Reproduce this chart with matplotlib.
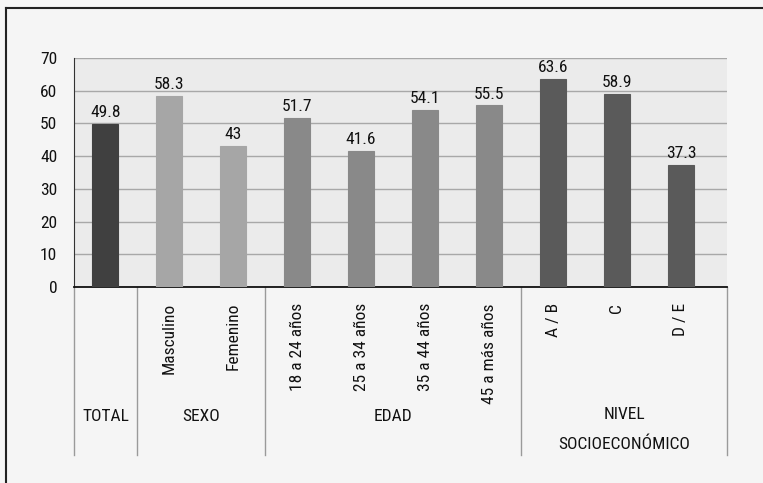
import matplotlib
matplotlib.use("Agg")
import matplotlib.pyplot as plt
import matplotlib.transforms as mtransforms

plt.rcParams['font.family'] = ['Roboto Condensed', 'Liberation Sans', 'DejaVu Sans']

categories = ["", "Masculino", "Femenino", "18 a 24 años", "25 a 34 años",
              "35 a 44 años", "45 a más años", "A / B", "C", "D / E"]
values = [49.8, 58.3, 43, 51.7, 41.6, 54.1, 55.5, 63.6, 58.9, 37.3]
value_labels = ["49.8", "58.3", "43", "51.7", "41.6", "54.1", "55.5", "63.6", "58.9", "37.3"]
groups = ["TOTAL", "SEXO", "EDAD", "NIVEL\n\nSOCIOECONÓMICO"]
group_sizes = [1, 2, 4, 3]
group_colors = ["#404040", "#a6a6a6", "#898989", "#5a5a5a"]
yticks = [0, 10, 20, 30, 40, 50, 60, 70]

W, H = 763, 483
FS = 12.5
fig = plt.figure(figsize=(W / 100, H / 100), dpi=100)
fig.patch.set_facecolor("#f5f5f5")

# outer frame (left and top visible)
fig.add_artist(plt.Line2D([6 / W, 6 / W], [0, 1 - 8 / H], color="#222222", lw=1.5))
fig.add_artist(plt.Line2D([6 / W, 1], [1 - 8 / H, 1 - 8 / H], color="#222222", lw=1.5))

left, right, top, bottom = 74, 727, 58, 287
ax = fig.add_axes([left / W, 1 - bottom / H, (right - left) / W, (bottom - top) / H])
ax.set_facecolor("#ebebeb")

colors = []
for c, n in zip(group_colors, group_sizes):
    colors += [c] * n

x = list(range(len(values)))
ax.bar(x, values, width=0.41, color=colors, edgecolor=colors, linewidth=0.8, zorder=3)
for xi, v, lab in zip(x, values, value_labels):
    ax.text(xi, v + 1.2, lab, ha="center", va="bottom", fontsize=FS, color="#111111", zorder=4)

ax.set_xlim(-0.49, 9.72)
ax.set_ylim(0, 70)
ax.set_yticks(yticks)
ax.set_yticklabels([str(t) for t in yticks], fontsize=FS, color="#111111")
ax.tick_params(axis="y", length=0, pad=12)
ax.set_xticks([])
ax.yaxis.grid(True, color="#a8a8a8", lw=1.0, zorder=1)
ax.set_axisbelow(True)
for s in ["top", "right"]:
    ax.spines[s].set_visible(False)
ax.spines["left"].set_color("#333333")
ax.spines["bottom"].set_color("#111111")
ax.spines["bottom"].set_linewidth(1.3)

trans = mtransforms.blended_transform_factory(ax.transData, ax.transAxes)

# category labels
for xi, lab in zip(x, categories):
    if lab:
        ax.text(xi, -0.07, lab, rotation=90, ha="center", va="top", fontsize=FS,
                color="#111111", transform=trans)

# group separators and labels
bounds = [-0.49]
acc = -0.5
for n in group_sizes:
    acc += n
    bounds.append(acc)
bounds[-1] = 9.72
for b in bounds:
    ax.plot([b, b], [0, -0.735], transform=trans, color="#9a9a9a", lw=1.0, clip_on=False)
for i, g in enumerate(groups):
    cx = (bounds[i] + bounds[i + 1]) / 2
    if "\n" in g:
        ax.text(cx, -0.525, g, ha="center", va="top", fontsize=FS, color="#111111",
                transform=trans, linespacing=0.95)
    else:
        ax.text(cx, -0.565, g, ha="center", va="center", fontsize=FS, color="#111111",
                transform=trans)

fig.savefig("out.png", dpi=100, facecolor=fig.get_facecolor())
